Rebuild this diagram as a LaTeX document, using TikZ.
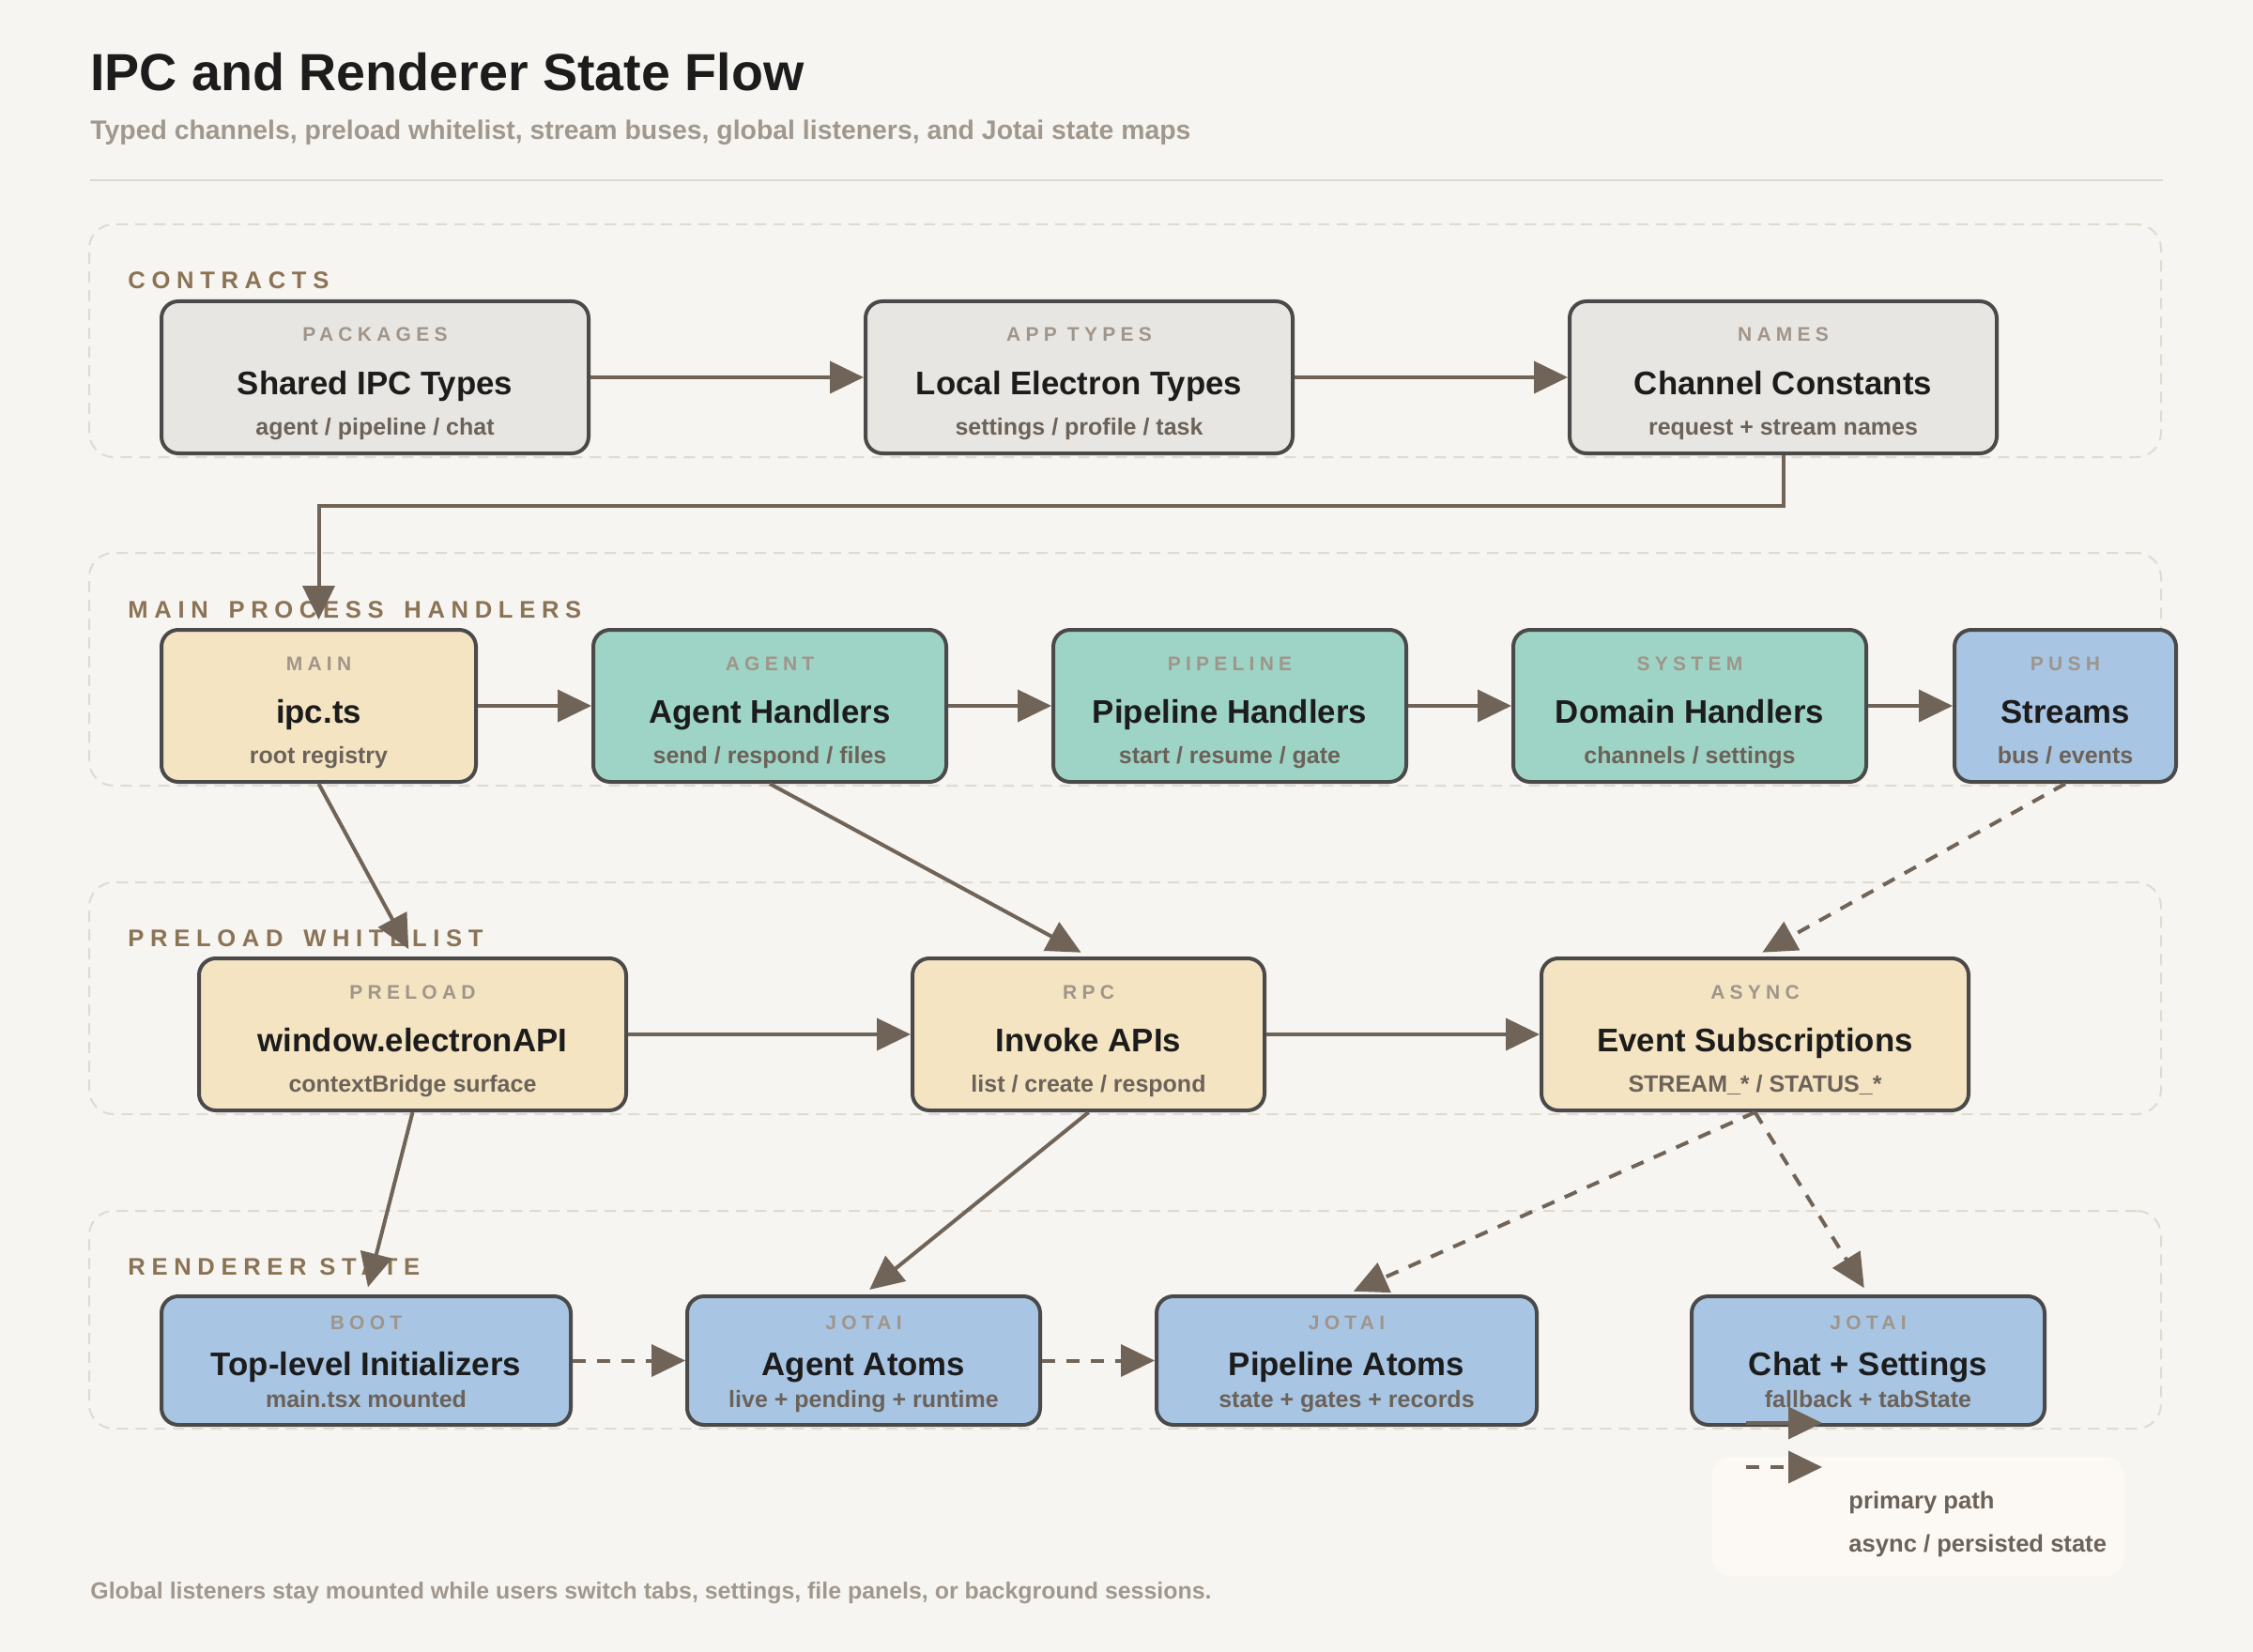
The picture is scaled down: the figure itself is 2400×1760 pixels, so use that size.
\documentclass[tikz,border=0pt]{standalone}
\usepackage{fontspec}
\setmainfont{Liberation Sans}
\usetikzlibrary{arrows.meta,calc}
\definecolor{bg}{HTML}{F7F5F1}
\definecolor{rulec}{HTML}{DDD8D0}
\definecolor{grpc}{HTML}{E0DAD0}
\definecolor{grplab}{HTML}{8B7355}
\definecolor{labc}{HTML}{A0958A}
\definecolor{ttlc}{HTML}{1C1C1C}
\definecolor{subc}{HTML}{6B6259}
\definecolor{edgec}{HTML}{4A4A4A}
\definecolor{arrc}{HTML}{706458}
\definecolor{fgray}{HTML}{E8E6E2}
\definecolor{fcream}{HTML}{F4E4C2}
\definecolor{fteal}{HTML}{9ED4C6}
\definecolor{fblue}{HTML}{A8C5E4}
\definecolor{legbg}{HTML}{FCF9F4}
\definecolor{footc}{HTML}{A0988E}
\newcommand\gsp{\hspace{4pt}}
\tikzset{
  box/.style={draw=edgec,line width=2pt,rounded corners=9pt,inner sep=0pt},
  grp/.style={draw=grpc,line width=1pt,dash pattern=on 6pt off 4pt,rounded corners=13pt},
  grplabel/.style={anchor=base west,inner sep=0pt,text=grplab,font=\bfseries\fontsize{12.8}{15}\selectfont\addfontfeature{LetterSpace=26}},
  lab/.style={anchor=base,inner sep=0pt,text=labc,font=\bfseries\fontsize{10.5}{12}\selectfont\addfontfeature{LetterSpace=25}},
  ttl/.style={anchor=base,inner sep=0pt,text=ttlc,font=\bfseries\fontsize{17.4}{20}\selectfont},
  sub/.style={anchor=base,inner sep=0pt,text=subc,font=\bfseries\fontsize{12.5}{15}\selectfont},
  arr/.style={draw=arrc,line width=2pt,-{Triangle[length=18pt,width=17pt]}},
  dasharr/.style={arr,dash pattern=on 7pt off 6pt},
  gray/.style={fill=fgray}, cream/.style={fill=fcream},
  teal/.style={fill=fteal}, blue/.style={fill=fblue}
}
\newcommand\mkbox[9]{%
  \node[box,#6,minimum width={(#4-4)*0.5pt},minimum height={(#5-4)*0.5pt}] (#1) at (#2,{#3+#5/2}) {};
  \node[lab] (#1-l) at (#2,{#3+\oL}) {#7};
  \node[ttl] (#1-t) at (#2,{#3+\oT}) {#8};
  \node[sub] (#1-s) at (#2,{#3+\oS}) {#9};
}
\begin{document}
\begin{tikzpicture}[x=0.5pt,y=-0.5pt]
\fill[bg] (0,0) rectangle (2400,1760);
\useasboundingbox (0,0) rectangle (2400,1760);
% header
\node[anchor=base west,inner sep=0pt,text=ttlc,font=\bfseries\fontsize{27.8}{32}\selectfont] (title) at (96,97) {IPC and Renderer State Flow};
\node[anchor=base west,inner sep=0pt,text=footc,font=\bfseries\fontsize{14.2}{17}\selectfont] (subtitle) at (96,149) {Typed channels, preload whitelist, stream buses, global listeners, and Jotai state maps};
\coordinate (ruleL) at (96,192);
\coordinate (ruleR) at (2304,192);
\draw[rulec,line width=1.3pt] (ruleL) -- (ruleR);
% groups
\node[grp,minimum width=1103.5pt,minimum height=124pt] (g1) at (1198.5,363) {};
\node[grp,minimum width=1103.5pt,minimum height=124pt] (g2) at (1198.5,713) {};
\node[grp,minimum width=1103.5pt,minimum height=123.5pt] (g3) at (1198.5,1063.5) {};
\node[grp,minimum width=1103.5pt,minimum height=116pt] (g4) at (1198.5,1406) {};
\node[grplabel] (g1l) at (136,308) {CONTRACTS};
\node[grplabel] (g2l) at (136,658) {MAIN\gsp{} PROCESS\gsp{} HANDLERS};
\node[grplabel] (g3l) at (136,1008) {PRELOAD\gsp{} WHITELIST};
\node[grplabel] (g4l) at (136,1358) {RENDERER STATE};
% row 1
\def\oL{45}\def\oT{101}\def\oS{144}
\mkbox{shared}{399.5}{319}{459}{166}{gray}{PACKAGES}{Shared IPC Types}{agent / pipeline / chat}
\mkbox{local}{1149.5}{319}{459}{166}{gray}{APP TYPES}{Local Electron Types}{settings / profile / task}
\mkbox{cc}{1899.5}{319}{459}{166}{gray}{NAMES}{Channel Constants}{request + stream names}
% row 2
\mkbox{ipc}{339.5}{669}{339}{166}{cream}{MAIN}{ipc.ts}{root registry}
\mkbox{agenth}{820}{669}{380}{166}{teal}{AGENT}{Agent Handlers}{send / respond / files}
\mkbox{pipeh}{1310}{669}{380}{166}{teal}{PIPELINE}{Pipeline Handlers}{start / resume / gate}
\mkbox{domh}{1800}{669}{380}{166}{teal}{SYSTEM}{Domain Handlers}{channels / settings}
\mkbox{streams}{2200}{669}{240}{166}{blue}{PUSH}{Streams}{bus / events}
% row 3
\mkbox{pre}{439.5}{1019}{459}{166}{cream}{PRELOAD}{window.electronAPI}{contextBridge surface}
\mkbox{inv}{1159.5}{1019}{379}{166}{cream}{RPC}{Invoke APIs}{list / create / respond}
\mkbox{evt}{1869.5}{1019}{459}{166}{cream}{ASYNC}{Event Subscriptions}{STREAM\_* / STATUS\_*}
% row 4
\def\oL{37}\def\oT{86}\def\oS{120}
\mkbox{boot}{390}{1379}{440}{141}{blue}{BOOT}{Top-level Initializers}{main.tsx mounted}
\mkbox{aatoms}{920}{1379}{380}{141}{blue}{JOTAI}{Agent Atoms}{live + pending + runtime}
\mkbox{patoms}{1434.5}{1379}{409}{141}{blue}{JOTAI}{Pipeline Atoms}{state + gates + records}
\mkbox{chat}{1990}{1379}{380}{141}{blue}{JOTAI}{Chat + Settings}{fallback + tabState}
% connectors
\draw[arr] (shared) -- (local);
\draw[arr] (local) -- (cc);
\coordinate (elbow) at (1000,539);
\draw[arr,shorten >=4.5pt] (cc.south) |- (elbow) -| (ipc.north);
\draw[arr] (ipc) -- (agenth);
\draw[arr] (agenth) -- (pipeh);
\draw[arr] (pipeh) -- (domh);
\draw[arr] (domh) -- (streams);
\draw[arr,shorten >=4.5pt] (ipc.south) -- (pre.north);
\draw[arr,shorten >=4.5pt] (agenth.south) -- (inv.north);
\draw[dasharr,shorten >=4.5pt] (streams.south) -- (evt.north);
\draw[arr] (pre) -- (inv);
\draw[arr] (inv) -- (evt);
\draw[arr,shorten >=4pt] (pre.south) -- (boot.north);
\draw[arr,shorten >=4pt] (inv.south) -- (aatoms.north);
\draw[dasharr,shorten >=4pt] (evt.south) -- (patoms.north);
\draw[dasharr,shorten >=4pt] (evt.south) -- (chat.north);
\draw[dasharr] (boot) -- (aatoms);
\draw[dasharr] (aatoms) -- (patoms);
% legend
\node[fill=legbg,rounded corners=10pt,minimum width=219.5pt,minimum height=63.5pt,inner sep=0pt] (legend) at (2043.5,1615.5) {};
\coordinate (lsA) at (1860,1516);
\coordinate (lsB) at (1941,1516);
\coordinate (ldA) at (1860,1563);
\coordinate (ldB) at (1941,1563);
\draw[arr] (lsA) -- (lsB);
\draw[dasharr] (ldA) -- (ldB);
\node[anchor=base west,inner sep=0pt,text=subc,font=\bfseries\fontsize{12.8}{15}\selectfont] (leg1) at (1969,1607) {primary path};
\node[anchor=base west,inner sep=0pt,text=subc,font=\bfseries\fontsize{12.8}{15}\selectfont] (leg2) at (1969,1653) {async / persisted state};
% footer
\node[anchor=base west,inner sep=0pt,text=footc,font=\bfseries\fontsize{12.45}{15}\selectfont] (footer) at (96,1703) {Global listeners stay mounted while users switch tabs, settings, file panels, or background sessions.};
\end{tikzpicture}
\end{document}
